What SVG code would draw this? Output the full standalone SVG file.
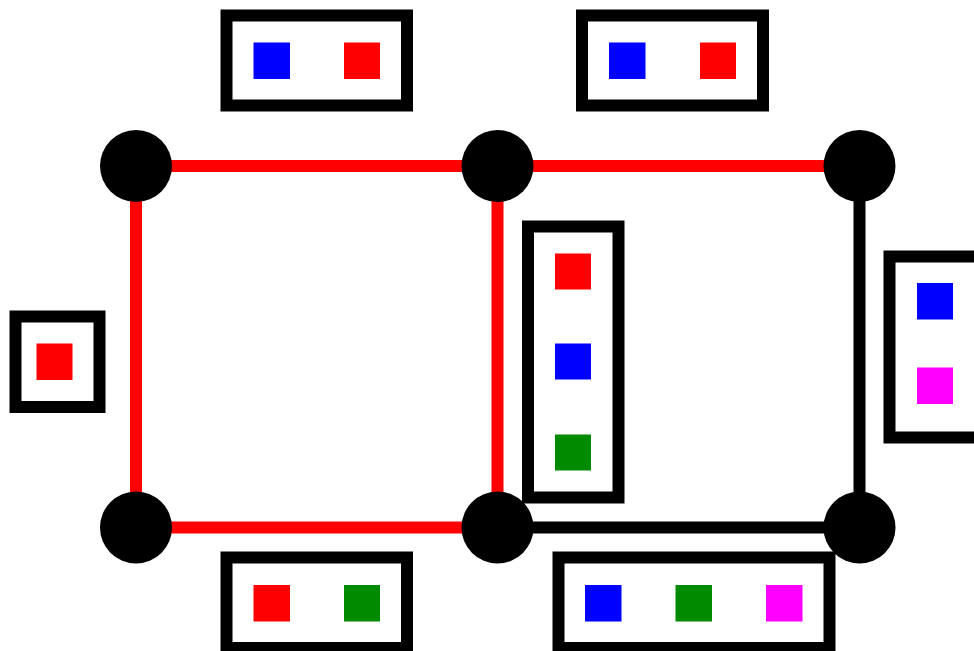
<svg xmlns="http://www.w3.org/2000/svg" width="974" height="651" viewBox="0 0 974 651">
<style>
.e{stroke-width:12;fill:none}
.r{stroke:#ff0000}
.k{stroke:#000000}
.n{fill:#000000}
.b{fill:#ffffff;stroke:#000000;stroke-width:12}
.cr{fill:#ff0000}.cb{fill:#0000ff}.cg{fill:#008a00}.cm{fill:#ff00ff}
</style>
<rect width="974" height="651" fill="#ffffff"/>
<g id="connectors">
<line class="e r" x1="136" y1="166" x2="497.5" y2="166"/>
<line class="e r" x1="497.5" y1="166" x2="859.5" y2="166"/>
<line class="e r" x1="136" y1="166" x2="136" y2="527.5"/>
<line class="e r" x1="497.5" y1="166" x2="497.5" y2="527.5"/>
<line class="e r" x1="136" y1="527.5" x2="497.5" y2="527.5"/>
<line class="e k" x1="859.5" y1="166" x2="859.5" y2="527.5"/>
<line class="e k" x1="497.5" y1="527.5" x2="859.5" y2="527.5"/>
</g>
<g id="label-top-left"><rect class="b" x="226.5" y="15.5" width="180.5" height="90"/><rect class="cb" x="253.5" y="42.5" width="36.5" height="36.5"/><rect class="cr" x="344" y="42.5" width="36" height="36.5"/></g>
<g id="label-top-right"><rect class="b" x="582" y="15.5" width="181" height="90"/><rect class="cb" x="609" y="42.5" width="36.5" height="36.5"/><rect class="cr" x="700" y="42.5" width="36" height="36.5"/></g>
<g id="label-left"><rect class="b" x="15.5" y="316.5" width="84" height="90.5"/><rect class="cr" x="36.5" y="343.5" width="36" height="36.5"/></g>
<g id="label-middle"><rect class="b" x="528" y="226.5" width="90.5" height="271"/><rect class="cr" x="555" y="253.5" width="36" height="36"/><rect class="cb" x="555" y="343.5" width="36" height="36"/><rect class="cg" x="555" y="434.5" width="36" height="36"/></g>
<g id="label-right"><rect class="b" x="889.5" y="256.5" width="90.5" height="181"/><rect class="cb" x="917" y="283" width="36" height="36.5"/><rect class="cm" x="917" y="367.5" width="36" height="36.5"/></g>
<g id="label-bottom-left"><rect class="b" x="226.5" y="557.5" width="180.5" height="90.5"/><rect class="cr" x="253.5" y="585" width="36.5" height="36.5"/><rect class="cg" x="344" y="585" width="36" height="36.5"/></g>
<g id="label-bottom-right"><rect class="b" x="558.5" y="557.5" width="271" height="90.5"/><rect class="cb" x="585" y="585" width="36.5" height="36.5"/><rect class="cg" x="675.5" y="585" width="36.5" height="36.5"/><rect class="cm" x="766" y="585" width="36.5" height="36.5"/></g>
<g id="node-1"><circle class="n" cx="136" cy="166" r="36"/></g>
<g id="node-2"><circle class="n" cx="497.5" cy="166" r="36"/></g>
<g id="node-3"><circle class="n" cx="859.5" cy="166" r="36"/></g>
<g id="node-4"><circle class="n" cx="136" cy="527.5" r="36"/></g>
<g id="node-5"><circle class="n" cx="497.5" cy="527.5" r="36"/></g>
<g id="node-6"><circle class="n" cx="859.5" cy="527.5" r="36"/></g>
</svg>
